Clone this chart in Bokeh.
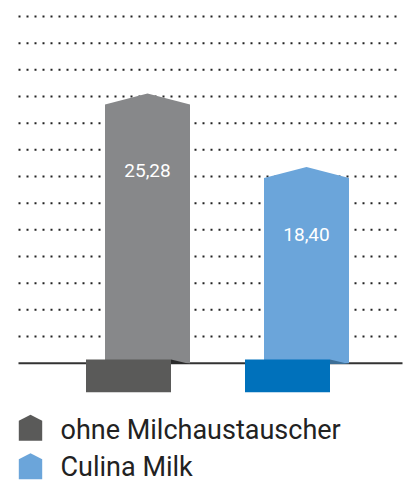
from bokeh.plotting import figure
from bokeh.models import Range1d
from bokeh.core.properties import value
from bokeh.embed import file_html
from bokeh.resources import INLINE

# ---- data ----
categories = ["ohne Milchaustauscher", "Culina Milk"]
values = [25.28, 18.40]
value_labels = ["25,28", "18,40"]
grid_values = [2.5, 5.0, 7.5, 10.0, 12.5, 15.0, 17.5, 20.0, 22.5, 25.0, 27.5, 30.0, 32.5]

# ---- styles ----
bar_colors = ["#87888a", "#6ba5da"]
base_colors = ["#5a5a59", "#0071bb"]
shadow_colors = ["#2b2b2b", "#3e6f97"]
legend_colors = ["#5a5a59", "#6ba5da"]

W, H = 406, 480
X0_PX, X_STEP = 147.0, 159.0      # pixel of first category centre, px between categories
Y0_PX, Y_SCALE = 362.7, 10.667    # pixel of value 0, px per unit


def dx(px):
    return px / X_STEP


def dy(px):
    return px / Y_SCALE


def sx(px):
    return (px - X0_PX) / X_STEP


def sy(py):
    return (Y0_PX - py) / Y_SCALE


p = figure(width=W, height=H, output_backend="svg", toolbar_location=None,
           x_axis_type=None, y_axis_type=None, min_border=0,
           x_range=Range1d(sx(0), sx(W)), y_range=Range1d(sy(H), sy(0)))
p.outline_line_color = None
p.background_fill_color = "white"
p.border_fill_color = "white"

# dotted grid lines
gx0, gx1 = sx(18), sx(402)
p.segment(x0=[gx0] * len(grid_values), x1=[gx1] * len(grid_values),
          y0=grid_values, y1=grid_values,
          line_color="#222222", line_width=2, line_dash="2 6")
# baseline
p.segment(x0=[gx0], x1=[gx1], y0=[0], y1=[0], line_color="#333333", line_width=2)

hw = dx(85) / 2
drop = dy(11)
off = dx(19)
xs, ys = [], []
for i, v in enumerate(values):
    c = i
    xs.append([c - hw, c - hw, c, c + hw, c + hw])
    ys.append([0, v - drop, v, v - drop, 0])
p.patches(xs=xs, ys=ys, fill_color=bar_colors, line_color=None)

# shadow folds
sxs, sys_ = [], []
for i, v in enumerate(values):
    c = i
    sxs.append([c + hw - off, c + hw, c + hw - off])
    sys_.append([dy(3.7), -dy(0.8), -dy(0.8)])
p.patches(xs=sxs, ys=sys_, fill_color=shadow_colors, line_color=None)

# bases
p.quad(left=[i - hw - off for i in range(len(values))],
       right=[i + hw - off for i in range(len(values))],
       top=[dy(3.7)] * len(values), bottom=[-dy(29)] * len(values),
       fill_color=base_colors, line_color=None)

# value labels
label_drop = [7.25, 6.35]
p.text(x=list(range(len(values))), y=[v - d for v, d in zip(values, label_drop)],
       text=value_labels, text_color="white", text_font=value("Roboto"),
       text_font_size="19px", text_align="center", text_baseline="middle")

# legend
lx0, lx1 = sx(18.3), sx(41.7)
lxm = (lx0 + lx1) / 2
icon_tops = [414.3, 452.7]
lxs, lys = [], []
for t in icon_tops:
    lxs.append([lx0, lx0, lxm, lx1, lx1])
    lys.append([sy(t + 26), sy(t + 6), sy(t), sy(t + 6), sy(t + 26)])
p.patches(xs=lxs, ys=lys, fill_color=legend_colors, line_color=None)

text_centers = [429.5, 466.0]
p.text(x=[sx(60)] * len(categories), y=[sy(b) for b in text_centers],
       text=categories, text_color="#222222", text_font=value("Roboto"),
       text_font_size="27px", text_align="left", text_baseline="middle")

open("out.html", "w").write(file_html(p, INLINE))
